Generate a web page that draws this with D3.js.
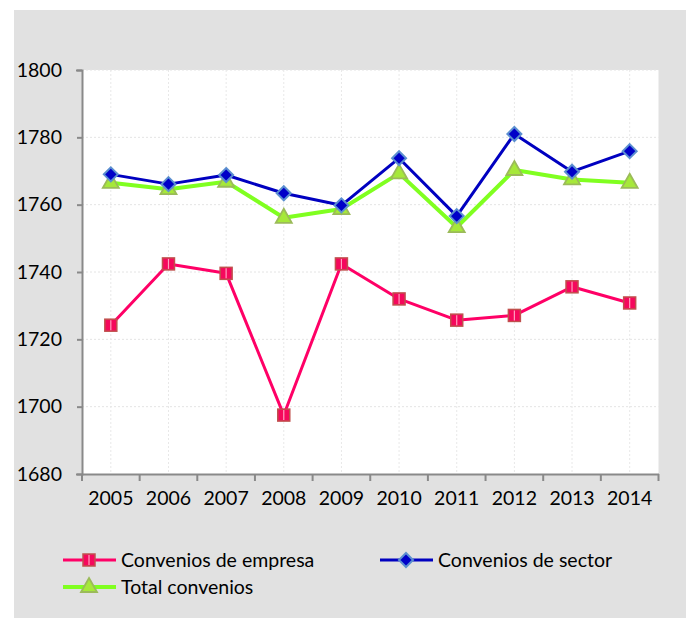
<!DOCTYPE html>
<html><head><meta charset="utf-8">
<script src="https://cdn.jsdelivr.net/npm/d3@7/dist/d3.min.js"></script>
<style>body{margin:0;background:#fff}svg{display:block}</style>
</head><body>
<svg id="c" width="686" height="618"></svg>
<script>
const years = ["2005","2006","2007","2008","2009","2010","2011","2012","2013","2014"];
const empresa = [1724.2,1742.4,1739.6,1697.5,1742.4,1732.0,1725.7,1727.1,1735.6,1730.8];
const sector  = [1769.0,1766.1,1768.8,1763.4,1759.8,1773.8,1756.6,1781.0,1769.8,1775.9];
const total   = [1766.5,1764.6,1766.8,1756.1,1758.7,1769.3,1753.3,1770.3,1767.5,1766.5];
const yTicks = [1680,1700,1720,1740,1760,1780,1800];
const seriesNames = ["Convenios de empresa","Convenios de sector","Total convenios"];

const svg = d3.select("#c");
const font = "Lato, 'Open Sans', sans-serif";
const fs = 19.5;
svg.append("rect").attr("x",14).attr("y",10).attr("width",672).attr("height",608).attr("fill","#e1e1e1");

const L=82,R=658.5,T=70,B=474;
const x = d3.scaleBand().domain(years).range([L,R]);
const y = d3.scaleLinear().domain([1680,1800]).range([B,T]);
svg.append("rect").attr("x",L).attr("y",T).attr("width",R-L).attr("height",B-T).attr("fill","#fff");

// gridlines
svg.append("g").selectAll("line").data(yTicks.slice(1)).join("line")
  .attr("x1",L).attr("x2",R).attr("y1",d=>y(d)).attr("y2",d=>y(d))
  .attr("stroke","#e4e4e4").attr("stroke-width",1).attr("stroke-dasharray","2,2");
svg.append("g").selectAll("line").data(years).join("line")
  .attr("x1",d=>x(d)+x.bandwidth()/2).attr("x2",d=>x(d)+x.bandwidth()/2).attr("y1",T).attr("y2",B)
  .attr("stroke","#e8e8e8").attr("stroke-width",1).attr("stroke-dasharray","2,2");

// axes
const yAxis = svg.append("g").attr("transform",`translate(${L},0)`)
  .call(d3.axisLeft(y).tickValues(yTicks).tickSize(6).tickPadding(14).tickFormat(d3.format("d")));
const xAxis = svg.append("g").attr("transform",`translate(0,${B})`)
  .call(d3.axisBottom(x).tickSize(0).tickPadding(17));
[yAxis,xAxis].forEach(a=>{
  a.select(".domain").attr("stroke","#898989").attr("stroke-width",2);
  a.selectAll(".tick line").attr("stroke","#898989").attr("stroke-width",2);
  a.selectAll("text").attr("font-family",font).attr("font-size",fs).attr("fill","#000");
});
yAxis.selectAll(".tick line").attr("x2",-5);
// x tick marks at band boundaries
const bounds = years.map(d=>x(d)).concat([R]);
svg.append("g").selectAll("line").data(bounds).join("line")
  .attr("x1",d=>d).attr("x2",d=>d).attr("y1",B).attr("y2",B+7)
  .attr("stroke","#898989").attr("stroke-width",2);

const cx = d=>x(d)+x.bandwidth()/2;
const line = d3.line().x((d,i)=>cx(years[i])).y(d=>y(d));

function square(g,px,py){
  g.append("rect").attr("x",px-6).attr("y",py-6).attr("width",12).attr("height",12)
   .attr("fill","#f5085c").attr("stroke","#c0504d").attr("stroke-width",1.5);
  g.append("line").attr("x1",px).attr("x2",px).attr("y1",py-5).attr("y2",py+5)
   .attr("stroke","#ff9fbf").attr("stroke-width",1.2);
}
function diamond(g,px,py){
  g.append("path").attr("d",`M${px},${py-7}L${px+7},${py}L${px},${py+7}L${px-7},${py}Z`)
   .attr("fill","#0000c8").attr("stroke","#5b8fd0").attr("stroke-width",2);
}
function triangle(g,px,py){
  g.append("path").attr("d",`M${px},${py-9}L${px+8},${py+5}L${px-8},${py+5}Z`)
   .attr("fill","#a6e83a").attr("stroke","#9bbb59").attr("stroke-width",1.8);
}

const series = [
  {name:seriesNames[2], data:total, color:"#80ff20", w:4, m:triangle},
  {name:seriesNames[1], data:sector, color:"#0000c0", w:3, m:diamond},
  {name:seriesNames[0], data:empresa, color:"#ff0066", w:3, m:square}
];
series.forEach(s=>{
  const g = svg.append("g");
  g.append("path").datum(s.data).attr("d",line).attr("fill","none")
   .attr("stroke",s.color).attr("stroke-width",s.w).attr("stroke-linejoin","round");
  s.data.forEach((v,i)=>s.m(g,cx(years[i]),y(v)));
});

// legend
const leg = [
  {name:seriesNames[0], color:"#ff0066", w:3, m:square, x:63, y:560},
  {name:seriesNames[1], color:"#0000c0", w:3, m:diamond, x:380, y:560},
  {name:seriesNames[2], color:"#80ff20", w:4, m:triangle, x:63, y:587}
];
leg.forEach(l=>{
  const g = svg.append("g");
  g.append("line").attr("x1",l.x).attr("x2",l.x+53).attr("y1",l.y).attr("y2",l.y)
   .attr("stroke",l.color).attr("stroke-width",l.w);
  l.m(g,l.x+26,l.y);
  g.append("text").attr("x",l.x+58).attr("y",l.y).attr("dy","0.35em")
   .attr("font-family",font).attr("font-size",fs).attr("fill","#000").text(l.name);
});
</script>
</body></html>
